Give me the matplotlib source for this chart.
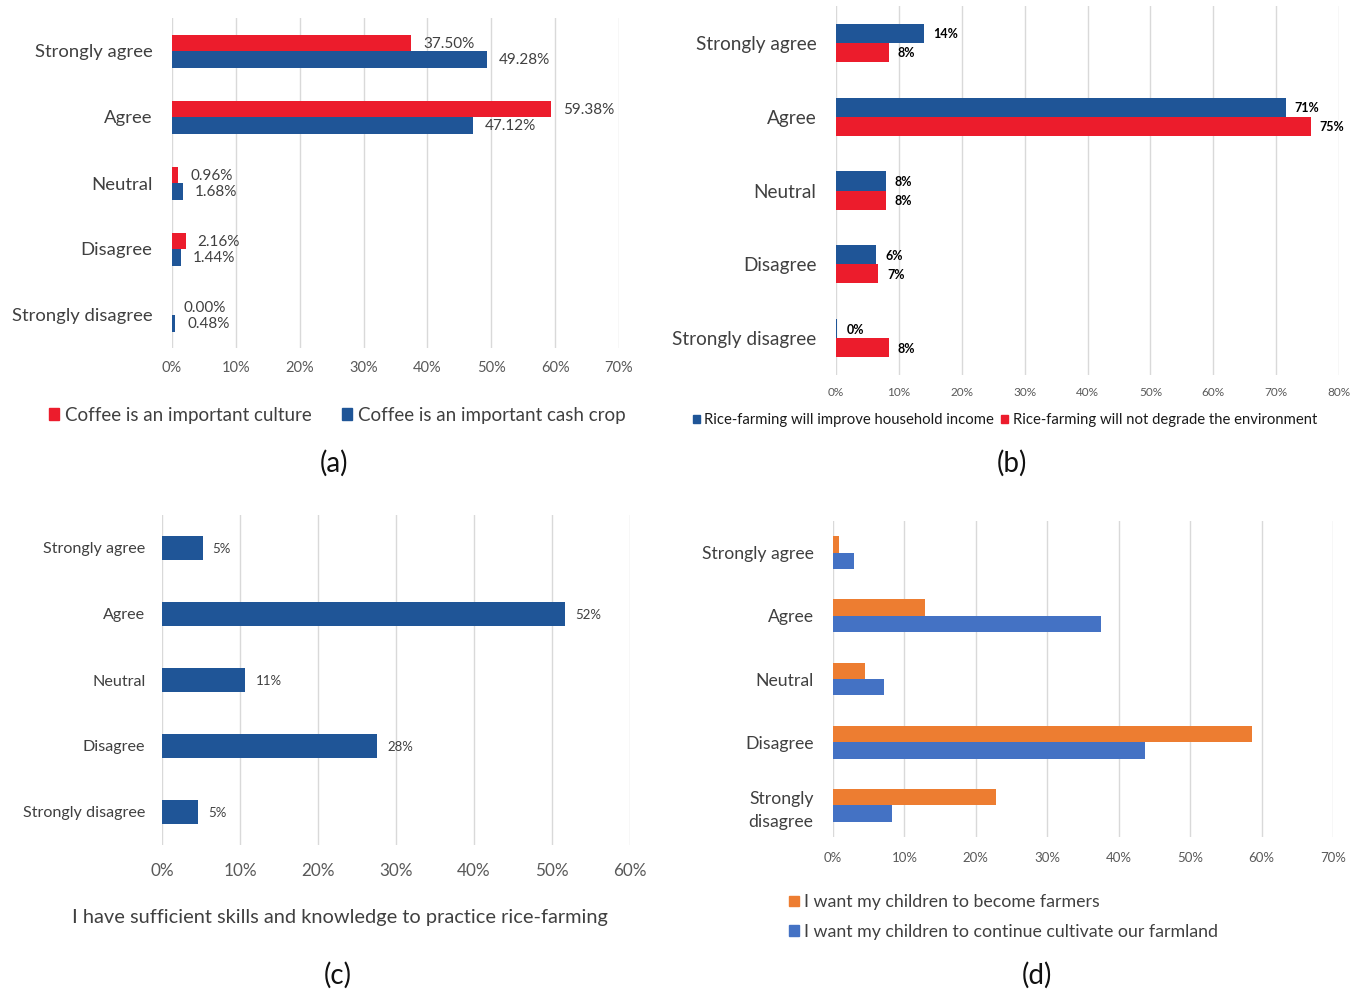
import matplotlib
matplotlib.use("Agg")
import matplotlib.pyplot as plt
from matplotlib.patches import Patch
import numpy as np

plt.rcParams["font.family"] = ["Lato", "DejaVu Sans"]

W, H = 1353, 991

levels = ["Strongly agree", "Agree", "Neutral", "Disagree", "Strongly disagree"]
levels_d = ["Strongly agree", "Agree", "Neutral", "Disagree", "Strongly\ndisagree"]

# (a) coffee perceptions
coffee_culture = [37.50, 59.38, 0.96, 2.16, 0.00]
coffee_cash = [49.28, 47.12, 1.68, 1.44, 0.48]

# (b) rice-farming perceptions
rice_income = [14.0, 71.5, 7.9, 6.4, 0.2]
rice_income_lbl = ["14%", "71%", "8%", "6%", "0%"]
rice_env = [8.4, 75.5, 7.9, 6.7, 8.4]
rice_env_lbl = ["8%", "75%", "8%", "7%", "8%"]

# (c) skills
skills = [5.2, 51.7, 10.7, 27.6, 4.6]
skills_lbl = ["5%", "52%", "11%", "28%", "5%"]

# (d) children
children_farmers = [0.9, 12.9, 4.5, 58.7, 22.8]
children_farmland = [3.0, 37.5, 7.1, 43.7, 8.3]

RED = "#EC1C2C"
NAVY = "#1F5597"
ORANGE = "#ED7D31"
BLUE = "#4472C4"
GRID = "#D9D9D9"
LABEL = "#404040"
TICK = "#595959"


def make_axes(fig, left, top, right, bottom):
    return fig.add_axes([left / W, 1 - bottom / H, (right - left) / W, (bottom - top) / H])


def style_axes(ax, xmax, cats, cat_size, tick_size, cat_pad, tick_pad):
    ax.set_xlim(0, xmax)
    ax.set_ylim(len(cats) - 0.5, -0.5)
    ticks = np.arange(0, xmax + 1, 10)
    ax.set_xticks(ticks)
    ax.set_xticklabels([f"{t}%" for t in ticks])
    ax.set_yticks(range(len(cats)))
    ax.set_yticklabels(cats, linespacing=1.55)
    ax.tick_params(axis="y", length=0, pad=cat_pad, labelsize=cat_size, labelcolor=LABEL)
    ax.tick_params(axis="x", length=0, pad=tick_pad, labelsize=tick_size, labelcolor=TICK)
    for s in ax.spines.values():
        s.set_visible(False)
    ax.grid(axis="x", color=GRID, linewidth=1.0)
    ax.set_axisbelow(True)


def bar_labels(ax, ys, vals, labels, size, gap, **kw):
    for y, v, t in zip(ys, vals, labels):
        ax.annotate(t, (v, y), xytext=(gap, -1), textcoords="offset pixels",
                    ha="left", va="center", fontsize=size, **kw)


def panel_tag(fig, x, yy, text):
    fig.text(x / W, 1 - yy / H, text, ha="center", va="center", fontsize=20, color="#111111")


fig = plt.figure(figsize=(W / 100, H / 100), dpi=100)
y = np.arange(len(levels))

# ---- (a)
ax = make_axes(fig, 172, 18, 619, 348)
h = 0.25
ax.barh(y - h / 2, coffee_culture, height=h, color=RED)
ax.barh(y + h / 2, coffee_cash, height=h, color=NAVY)
style_axes(ax, 70, levels, 13.3, 10.5, 14, 9)
bar_labels(ax, y - h / 2, coffee_culture, [f"{v:.2f}%" for v in coffee_culture], 11, 12, color=LABEL)
bar_labels(ax, y + h / 2, coffee_cash, [f"{v:.2f}%" for v in coffee_cash], 11, 12, color=LABEL)
fig.legend(handles=[Patch(color=RED, label="Coffee is an important culture"),
                    Patch(color=NAVY, label="Coffee is an important cash crop")],
           loc="center", bbox_to_anchor=(337 / W, 1 - 415 / H), ncol=2, frameon=False,
           fontsize=13.5, handlelength=0.55, handleheight=0.55, handletextpad=0.3,
           columnspacing=1.6, labelcolor=LABEL)
panel_tag(fig, 334, 463, "(a)")

# ---- (b)
ax = make_axes(fig, 836, 6, 1339, 375)
h = 0.26
ax.barh(y - h / 2, rice_income, height=h, color=NAVY)
ax.barh(y + h / 2, rice_env, height=h, color=RED)
style_axes(ax, 80, levels, 13.7, 8.5, 14, 9)
bar_labels(ax, y - h / 2, rice_income, rice_income_lbl, 9, 9, color="black", fontweight="bold")
bar_labels(ax, y + h / 2, rice_env, rice_env_lbl, 9, 9, color="black", fontweight="bold")
fig.legend(handles=[Patch(color=NAVY, label="Rice-farming will improve household income"),
                    Patch(color=RED, label="Rice-farming will not degrade the environment")],
           loc="center", bbox_to_anchor=(1005 / W, 1 - 420 / H), ncol=2, frameon=False,
           fontsize=10.7, handlelength=0.45, handleheight=0.45, handletextpad=0.3,
           columnspacing=0.5, labelcolor="#1a1a1a")
panel_tag(fig, 1012, 463, "(b)")

# ---- (c)
ax = make_axes(fig, 162, 515, 630, 845)
ax.barh(y, skills, height=0.36, color=NAVY)
style_axes(ax, 60, levels, 11.6, 12.3, 12, 13)
bar_labels(ax, y, skills, skills_lbl, 9.5, 10, color=LABEL)
fig.text(340 / W, 1 - 917 / H, "I have sufficient skills and knowledge to practice rice-farming",
         ha="center", va="center", fontsize=14.4, color=LABEL)
panel_tag(fig, 338, 975, "(c)")

# ---- (d)
ax = make_axes(fig, 833, 521, 1333, 837)
h = 0.26
ax.barh(y - h / 2, children_farmers, height=h, color=ORANGE)
ax.barh(y + h / 2, children_farmland, height=h, color=BLUE)
style_axes(ax, 70, levels_d, 12.7, 9.5, 14, 11)
fig.legend(handles=[Patch(color=ORANGE, label="I want my children to become farmers"),
                    Patch(color=BLUE, label="I want my children to continue cultivate our farmland")],
           loc="center left", bbox_to_anchor=(773 / W, 1 - 917 / H), ncol=1, frameon=False,
           fontsize=12.8, handlelength=0.55, handleheight=0.55, handletextpad=0.3,
           labelspacing=0.75, labelcolor=LABEL)
panel_tag(fig, 1037, 975, "(d)")

fig.savefig("out.png", dpi=100, facecolor="white")
